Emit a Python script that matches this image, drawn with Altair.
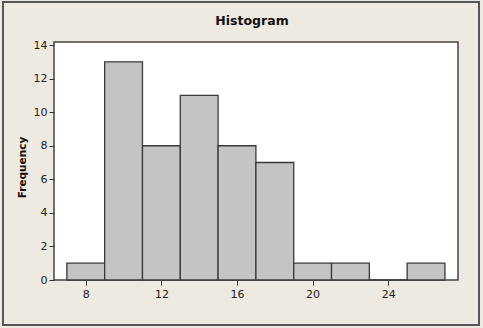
import altair as alt
import pandas as pd

bin_starts = [7, 9, 11, 13, 15, 17, 19, 21, 23, 25]
bin_ends = [9, 11, 13, 15, 17, 19, 21, 23, 25, 27]
counts = [1, 13, 8, 11, 8, 7, 1, 1, 0, 1]
x_ticks = [8, 12, 16, 20, 24]
y_ticks = [0, 2, 4, 6, 8, 10, 12, 14]
title_text = ["Histogram"]

df = pd.DataFrame({"start": bin_starts, "end": bin_ends, "count": counts})

BG = "#EEEAE1"
FONT = "DejaVu Sans"

xscale = alt.Scale(domain=[6.32, 27.69], nice=False, zero=False)
yscale = alt.Scale(domain=[0, 14.18], nice=False)

bars = alt.Chart(df).mark_rect(
    fill="#C4C4C4", stroke="#3a3a3a", strokeWidth=1.3
).encode(
    x=alt.X("start:Q", scale=xscale,
            axis=alt.Axis(values=x_ticks, title=None, grid=False, domain=False,
                          tickSize=5, tickColor="#333", labelColor="#222",
                          labelFont=FONT, labelFontSize=11, labelPadding=3)),
    x2="end:Q",
    y=alt.Y("count:Q", scale=yscale,
            axis=alt.Axis(values=y_ticks, title="Frequency", grid=False, domain=False,
                          tickSize=5, tickColor="#333", labelColor="#222",
                          labelFont=FONT, labelFontSize=11, labelPadding=2,
                          titleFont=FONT, titleFontSize=10.5, titleFontWeight="bold",
                          titleColor="#111", titleX=-27, titleY=125)),
    y2=alt.datum(0),
)

outer = alt.Chart(pd.DataFrame({"a": [0]})).mark_rect(
    fill=None, stroke="#555555", strokeWidth=2, clip=False
).encode(
    x=alt.value(-51), x2=alt.value(425), y=alt.value(-40), y2=alt.value(283)
)

title = alt.Chart(pd.DataFrame({"t": title_text})).mark_text(
    font=FONT, fontSize=12.5, fontWeight="bold", color="#111",
    align="center", baseline="middle", clip=False
).encode(
    text="t:N", x=alt.value(198), y=alt.value(-21)
)

chart = alt.layer(outer, bars, title).properties(
    width=404, height=238,
    padding={"left": 54, "top": 42, "right": 25, "bottom": 48},
    autosize=alt.AutoSizeParams(type="none"),
    background=BG,
).configure_view(
    stroke="#444444", strokeWidth=1.5, fill="white"
)

chart.save("out.html", embed_options={"renderer": "svg", "actions": False})
